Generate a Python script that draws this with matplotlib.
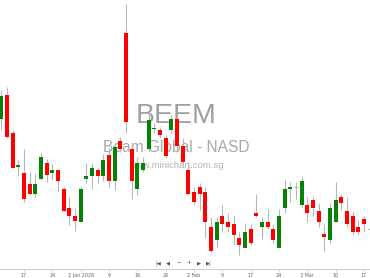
import numpy as np
import matplotlib
matplotlib.use("Agg")
import matplotlib.pyplot as plt

# daily OHLC, index 0 = 11 Dec 2025 (price scale, no axis shown)
opens = [1.81, 2.05, 1.67, 1.33, 1.27, 1.16, 1.06, 1.21, 1.37, 1.27,
         1.30, 1.11, 0.92, 0.84, 0.78, 1.21, 1.24, 1.30, 1.24, 1.45,
         1.19, 1.59, 2.67, 1.51, 1.11, 1.30, 1.51, 1.71, 1.70, 1.62,
         1.70, 1.81, 1.54, 1.30, 1.08, 1.13, 1.08, 0.73, 0.60, 0.84,
         0.78, 0.76, 0.62, 0.52, 0.71, 0.87, 0.73, 0.78, 0.71, 0.52,
         0.92, 1.11, 1.13, 0.95, 0.95, 1.00, 0.89, 0.66, 0.60, 0.78,
         1.03, 0.89, 0.84, 0.73, 0.81, 0.71]
highs = [2.10, 2.13, 1.70, 1.40, 1.51, 1.28, 1.27, 1.47, 1.41, 1.36,
         1.30, 1.13, 1.03, 0.92, 1.13, 1.37, 1.37, 1.33, 1.46, 1.52,
         1.57, 1.63, 2.96, 1.57, 1.43, 1.43, 1.87, 1.77, 1.73, 1.65,
         1.85, 1.85, 1.62, 1.37, 1.13, 1.17, 1.13, 0.83, 0.83, 0.95,
         0.87, 0.84, 0.68, 0.76, 0.76, 1.06, 0.83, 0.91, 0.76, 0.91,
         1.20, 1.18, 1.18, 1.24, 1.03, 1.03, 0.97, 0.76, 0.97, 1.18,
         1.06, 1.03, 0.89, 0.80, 0.84, 0.78]
lows = [1.70, 1.62, 1.32, 1.24, 0.98, 1.05, 1.03, 1.20, 1.18, 1.20,
        1.09, 0.88, 0.75, 0.69, 0.78, 1.17, 1.11, 1.17, 1.19, 1.13,
        1.10, 1.48, 1.67, 1.01, 1.05, 1.28, 1.48, 1.67, 1.62, 1.42,
        1.67, 1.48, 1.35, 1.05, 0.96, 0.90, 0.62, 0.48, 0.53, 0.68,
        0.68, 0.55, 0.45, 0.52, 0.55, 0.83, 0.61, 0.71, 0.57, 0.52,
        0.87, 0.98, 1.01, 0.93, 0.78, 0.84, 0.73, 0.49, 0.57, 0.78,
        0.90, 0.73, 0.65, 0.65, 0.68, 0.67]
closes = [2.04, 1.63, 1.32, 1.35, 1.01, 1.06, 1.16, 1.43, 1.25, 1.30,
          1.19, 0.89, 0.84, 0.79, 1.11, 1.24, 1.32, 1.24, 1.40, 1.19,
          1.53, 1.51, 1.78, 1.19, 1.37, 1.37, 1.80, 1.72, 1.65, 1.44,
          1.81, 1.54, 1.38, 1.06, 0.98, 1.06, 0.78, 0.49, 0.78, 0.76,
          0.73, 0.65, 0.55, 0.68, 0.57, 0.84, 0.78, 0.73, 0.60, 0.84,
          1.11, 1.13, 1.13, 1.19, 0.87, 0.92, 0.78, 0.63, 0.92, 1.00,
          0.97, 0.76, 0.68, 0.68, 0.76, 0.71]

tick_pos = [4, 9, 14, 19, 24, 29, 34, 39, 44, 49, 54, 59, 64]
tick_labels = ["17", "24", "2 Jan 2026", "9", "16", "26", "2 Feb",
               "9", "17", "24", "3 Mar", "10", "17"]

ticker = "BEEM"
name = "Beam Global - NASD"
site = "www.minichart.com.sg"
nav = ["|\u25c0", "\u25c0", "\u2212", "+", "\u25b6", "\u25b6|"]

fig = plt.figure(figsize=(3.7, 2.78), dpi=100)
ax = fig.add_axes([0, 9 / 278, 1, 269 / 278])

o = np.array(opens)
h = np.array(highs)
l = np.array(lows)
c = np.array(closes)
x = np.arange(len(o))

up = c > o
down = c < o
flat = c == o

ax.vlines(x, l, h, color="#b8b8b8", linewidth=0.8, zorder=2)
w = 0.76
ax.bar(x[up], (c - o)[up], bottom=o[up], width=w, color="#078207", zorder=3)
ax.bar(x[down], (o - c)[down], bottom=c[down], width=w, color="#ff0000", zorder=3)
ax.hlines(o[flat], x[flat] - w / 2, x[flat] + w / 2, color="#8fd18f",
          linewidth=0.9, zorder=3)

# watermark, behind the candles
tf = fig.transFigure
ax.text(0.477, 1 - 116 / 278, ticker, transform=tf, ha="center", va="center",
        fontsize=20.5, color="#a0a0a0", family="Liberation Sans", zorder=1)
ax.text(0.477, 1 - 148 / 278, name, transform=tf, ha="center", va="center",
        fontsize=11.2, color="#a8a8a8", family="Liberation Sans", zorder=1)
ax.text(0.477, 1 - 166 / 278, site, transform=tf, ha="center", va="center",
        fontsize=6.8, color="#b4b4b4", family="Liberation Sans", zorder=1)

# navigation buttons
for i, s in enumerate(nav):
    fig.text((158 + i * 10.2) / 370, 1 - 263 / 278, s, ha="center", va="center",
             fontsize=3.8, color="#555555")

ax.set_xlim(-0.235, 65.06)
ax.set_ylim(0.31, 3.00)
ax.set_xticks(tick_pos, tick_labels)
ax.tick_params(axis="x", labelsize=3.5, colors="#666666", length=2,
               width=0.5, pad=1, color="#cccccc")
ax.set_yticks([])
for side in ["top", "left", "right"]:
    ax.spines[side].set_visible(False)
ax.spines["bottom"].set_color("#cccccc")
ax.spines["bottom"].set_linewidth(0.7)
ax.patch.set_alpha(0)

fig.savefig("out.png", dpi=100)
